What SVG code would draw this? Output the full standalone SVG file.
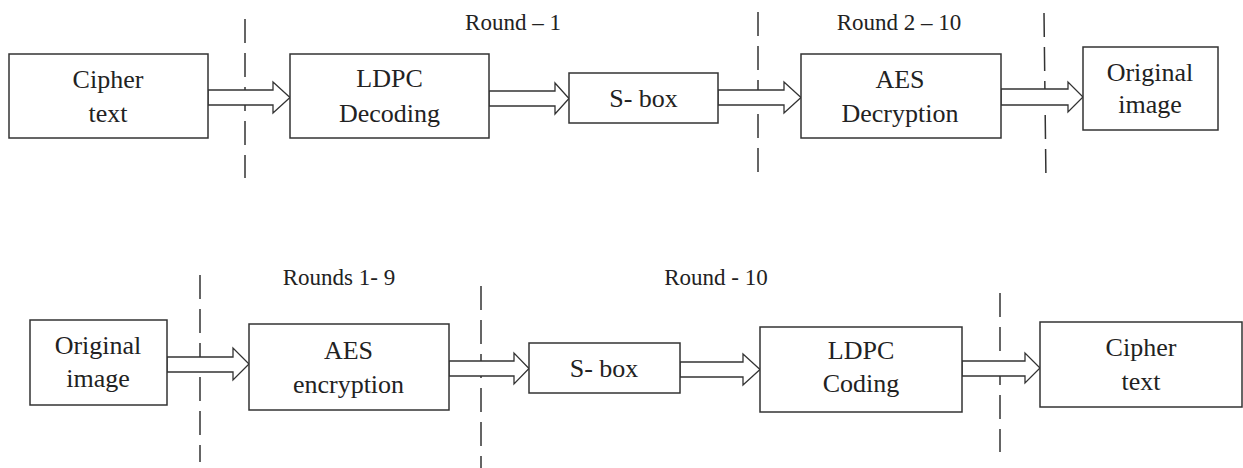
<svg xmlns="http://www.w3.org/2000/svg" width="1243" height="468" viewBox="0 0 1243 468">
  <style>
    .box { fill: #ffffff; stroke: #333333; stroke-width: 1.5; }
    .lbl { font-family: "Liberation Serif", "Times New Roman", serif; font-size: 26px; fill: #222222; text-anchor: middle; }
    .rnd { font-family: "Liberation Serif", "Times New Roman", serif; font-size: 23px; fill: #222222; text-anchor: middle; }
    .blk { fill: #ffffff; stroke: #333333; stroke-width: 1.3; stroke-linejoin: miter; }
    .cut { stroke: #333333; stroke-width: 1.5; stroke-dasharray: 24 10; fill: none; }
  </style>
  <rect width="1243" height="468" fill="#ffffff"/>

  <!-- round boundaries -->
  <g id="boundaries">
    <line class="cut" x1="245" y1="19" x2="245" y2="178"/>
    <line class="cut" x1="758" y1="12" x2="758" y2="177"/>
    <line class="cut" x1="1044" y1="13" x2="1046" y2="183"/>
    <line class="cut" x1="200" y1="275" x2="200" y2="462"/>
    <line class="cut" x1="481" y1="286" x2="481" y2="468"/>
    <line class="cut" x1="1000" y1="293" x2="1000" y2="452"/>
  </g>

  <!-- round captions -->
  <g id="captions">
    <text class="rnd" x="513" y="30">Round – 1</text>
    <text class="rnd" x="899" y="30">Round 2 – 10</text>
    <text class="rnd" x="339" y="285">Rounds 1- 9</text>
    <text class="rnd" x="716" y="285">Round - 10</text>
  </g>

  <!-- block arrows -->
  <g id="connectors">
    <polygon class="blk" points="208,90 273,90 273,82 290,97.5 273,113 273,105 208,105"/>
    <polygon class="blk" points="489,91 555,91 555,83 569,98.5 555,114 555,106 489,106"/>
    <polygon class="blk" points="718,90 784,90 784,82 801,97.5 784,113 784,105 718,105"/>
    <polygon class="blk" points="1001,89 1068,89 1068,82 1083,97 1068,112 1068,105 1001,105"/>
    <polygon class="blk" points="167,357 233,357 233,348 249,364 233,380 233,372 167,372"/>
    <polygon class="blk" points="449,361 514,361 514,353 529,368.5 514,384 514,376 449,376"/>
    <polygon class="blk" points="680,362 743,362 743,354 760,369.5 743,385 743,377 680,377"/>
    <polygon class="blk" points="962,361 1025,361 1025,353 1040,368 1025,383 1025,376 962,376"/>
  </g>

  <!-- decryption path -->
  <g id="dec-cipher">
    <rect class="box" x="9" y="54" width="199" height="84"/>
    <text class="lbl" x="108" y="88">Cipher</text>
    <text class="lbl" x="108" y="122">text</text>
  </g>
  <g id="dec-ldpc">
    <rect class="box" x="290" y="54" width="199" height="84"/>
    <text class="lbl" x="389.5" y="87">LDPC</text>
    <text class="lbl" x="389.5" y="122">Decoding</text>
  </g>
  <g id="dec-sbox">
    <rect class="box" x="569" y="73" width="149" height="50"/>
    <text class="lbl" x="643.5" y="107">S- box</text>
  </g>
  <g id="dec-aes">
    <rect class="box" x="801" y="54" width="200" height="84"/>
    <text class="lbl" x="900" y="88">AES</text>
    <text class="lbl" x="900" y="122">Decryption</text>
  </g>
  <g id="dec-image">
    <rect class="box" x="1083" y="47" width="135" height="83"/>
    <text class="lbl" x="1150" y="81">Original</text>
    <text class="lbl" x="1150" y="113">image</text>
  </g>

  <!-- encryption path -->
  <g id="enc-image">
    <rect class="box" x="30" y="320" width="137" height="85"/>
    <text class="lbl" x="98" y="354">Original</text>
    <text class="lbl" x="98" y="387">image</text>
  </g>
  <g id="enc-aes">
    <rect class="box" x="249" y="324" width="200" height="86"/>
    <text class="lbl" x="348.5" y="359">AES</text>
    <text class="lbl" x="348.5" y="393">encryption</text>
  </g>
  <g id="enc-sbox">
    <rect class="box" x="529" y="343" width="151" height="50"/>
    <text class="lbl" x="604" y="377">S- box</text>
  </g>
  <g id="enc-ldpc">
    <rect class="box" x="760" y="327" width="202" height="85"/>
    <text class="lbl" x="861" y="359">LDPC</text>
    <text class="lbl" x="861" y="392">Coding</text>
  </g>
  <g id="enc-cipher">
    <rect class="box" x="1040" y="322" width="202" height="85"/>
    <text class="lbl" x="1141" y="356">Cipher</text>
    <text class="lbl" x="1141" y="390">text</text>
  </g>
</svg>
